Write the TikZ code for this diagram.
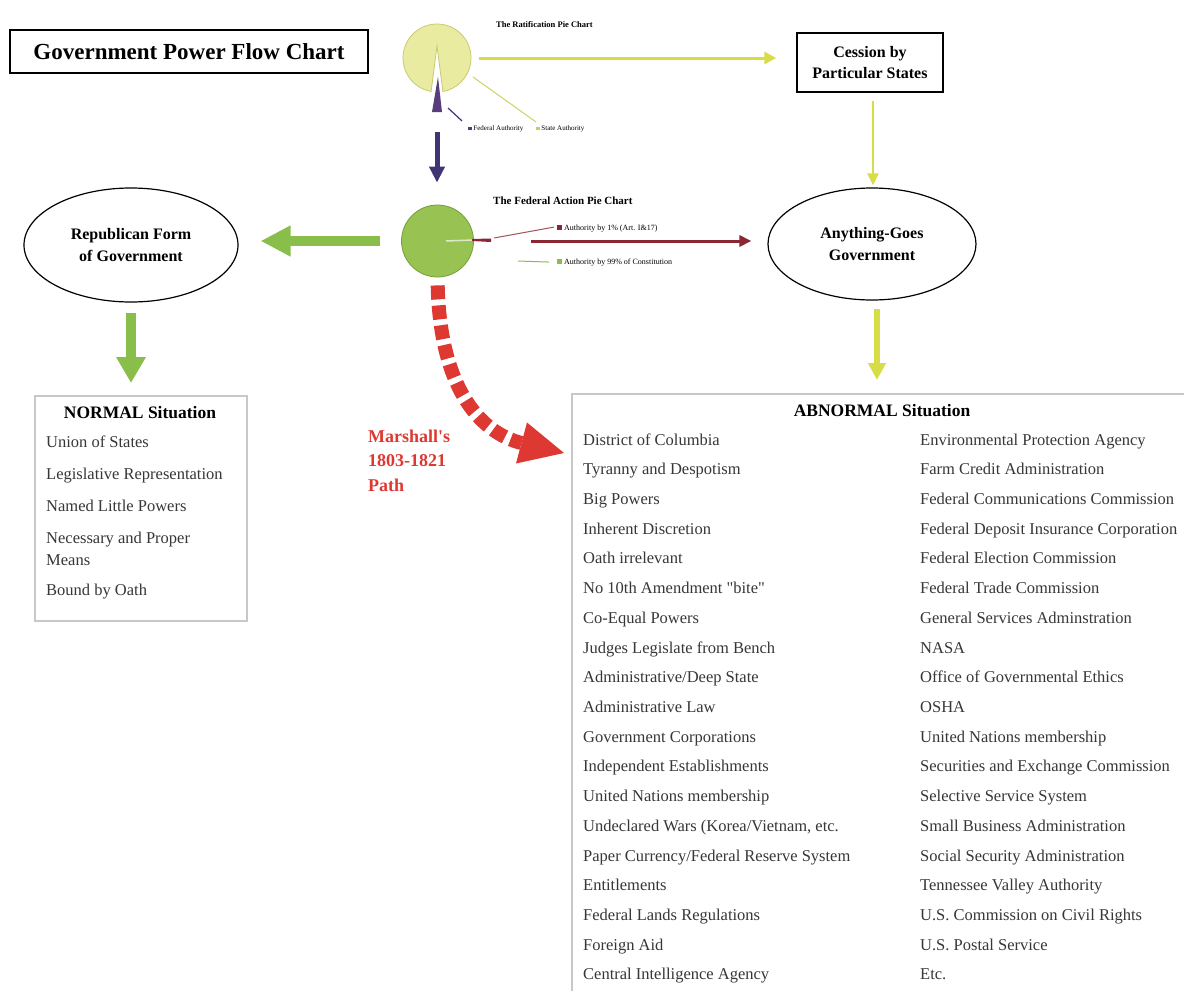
\documentclass[tikz,border=0pt]{standalone}
\usepackage{fontspec}
\setmainfont{Liberation Serif}[Ligatures=TeXOff]
\usetikzlibrary{arrows.meta,shapes.geometric,calc}
\definecolor{yarrow}{RGB}{214,221,70}
\definecolor{pieY}{RGB}{233,235,160}
\definecolor{pieYe}{RGB}{200,202,115}
\definecolor{purp}{RGB}{62,52,118}
\definecolor{sliver}{RGB}{88,60,125}
\definecolor{garrow}{RGB}{138,190,74}
\definecolor{pieG}{RGB}{152,194,82}
\definecolor{pieGe}{RGB}{118,158,60}
\definecolor{darkred}{RGB}{140,38,50}
\definecolor{mred}{RGB}{222,56,50}
\definecolor{boxgray}{RGB}{200,200,200}
\definecolor{txt}{RGB}{55,55,55}
\begin{document}
\begin{tikzpicture}[x=1pt,y=-1pt,
  titlebox/.style={draw, line width=1.3pt, minimum width=358pt, minimum height=43pt, inner sep=0, font=\fontsize{23}{26}\selectfont\bfseries},
  cbox/.style={draw, line width=1.5pt, minimum width=146pt, minimum height=59pt, inner sep=0, align=center, font=\fontsize{16}{21}\selectfont\bfseries},
  oval/.style={draw, ellipse, line width=1.2pt, inner sep=0, align=center, font=\fontsize{16}{22}\selectfont\bfseries},
  item/.style={anchor=base west, inner sep=0, text=txt, font=\fontsize{16.5}{20}\selectfont},
  hdr/.style={anchor=base, inner sep=0, font=\fontsize{17.5}{20}\selectfont\bfseries},
  tiny/.style={anchor=base west, inner sep=0, font=\fontsize{#1}{10}\selectfont},
  marsh/.style={anchor=base west, inner sep=0, text=mred, font=\fontsize{18}{24}\selectfont\bfseries},
  listbox/.style={draw=boxgray, line width=1.5pt, anchor=north west, inner sep=0}
]
\useasboundingbox (0,0) rectangle (1184,991);
\fill[white] (0,0) rectangle (1184,991);

% title
\node[titlebox] (title) at (189,51.5) {Government Power Flow Chart};

% ratification pie
\node[circle, minimum size=68pt, inner sep=0] (ratpie) at (437,58) {};
\fill[pieY, draw=pieYe, line width=0.8pt] (437,46) -- ($(ratpie.center)+(100:34)$) arc[start angle=100, end angle=440, radius=34] -- cycle;
\fill[sliver] (438,77) -- (442,112) -- (432,112) -- cycle;
\coordinate (sliv) at (437,112);
\node[tiny=8.5, font=\fontsize{8.5}{10}\selectfont\bfseries] (rattitle) at (496,27) {The Ratification Pie Chart};
\node[tiny=7] (fedleg) at (468,130) {\textcolor{sliver}{\rule{3.5pt}{3.5pt}} Federal Authority};
\node[tiny=7] (stleg) at (536,130) {\textcolor{pieYe}{\rule{3.5pt}{3.5pt}} State Authority};
\draw[purp, line width=1.2pt] ($(fedleg.north west)+(-6,-4)$) -- (448,108);
\draw[pieYe!60!yarrow, line width=1pt] (473,77) -- ($(stleg.north west)+(0,-3)$);

% federal action pie
\node[circle, fill=pieG, draw=pieGe, line width=0.8pt, minimum size=72pt, inner sep=0] (fedpie) at (437.5,241) {};
\draw[white!65!pieG, line width=1.5pt] (446,241) -- (473,240);
\fill[darkred] (472,239) -- (491,238.5) -- (491,242) -- (472,241) -- cycle;
\node[tiny=11, font=\fontsize{11}{12}\selectfont\bfseries] (fedtitle) at (493,204) {The Federal Action Pie Chart};
\node[tiny=8] (l1) at (557,230) {\textcolor{darkred}{\rule{5pt}{5pt}} Authority by 1\% (Art. I\&17)};
\node[tiny=8] (l2) at (557,264) {\textcolor{garrow}{\rule{5pt}{5pt}} Authority by 99\% of Constitution};
\draw[darkred!80, line width=1pt] (494,238) -- ($(l1.west)+(-3,-1)$);
\draw[garrow, line width=1pt] (518,261) -- ($(l2.west)+(-8,0)$);

% cession and ellipses
\node[cbox] (cession) at (870,62.5) {Cession by\\Particular States};
\node[oval, minimum width=214pt, minimum height=114pt] (rep) at (131,245) {Republican Form\\of Government};
\node[oval, minimum width=208pt, minimum height=112pt] (anything) at (872,244) {Anything-Goes\\Government};

% list boxes
\node[listbox, minimum width=212pt, minimum height=225pt] (normal) at (34,395) {};
\node[listbox, minimum width=640pt, minimum height=640pt] (abn) at (571,393) {};

% arrows
\draw[yarrow, line width=3pt, -{Triangle[length=12pt,width=12pt]}, shorten <=8pt, shorten >=20pt] (ratpie.east) -- (ratpie.east -| cession.west);
\draw[yarrow, line width=2.5pt, -{Triangle[length=12pt,width=11pt]}, shorten <=8pt, shorten >=2pt] ([xshift=3pt]cession.south) -- ([xshift=3pt]cession.south |- anything.north);
\draw[yarrow, line width=6pt, -{Triangle[length=17pt,width=17pt]}, shorten <=8pt, shorten >=13pt] ([xshift=5pt]anything.south) -- ([xshift=5pt]anything.south |- abn.north);
\draw[purp, line width=5pt, -{Triangle[length=16pt,width=15pt]}, shorten <=20pt, shorten >=22pt] (sliv) -- (sliv |- fedpie.north);
\draw[darkred, line width=3pt, -{Triangle[length=12pt,width=11pt]}, shorten <=57pt, shorten >=16pt] (fedpie.east) -- (fedpie.east -| anything.west);
\draw[garrow, line width=10pt, -{Triangle[length=30pt,width=29pt]}, shorten <=21pt, shorten >=22pt] (fedpie.west) -- (fedpie.west -| rep.east);
\draw[garrow, line width=10pt, -{Triangle[length=26pt,width=28pt]}, shorten <=10pt, shorten >=12pt] (rep.south) -- (rep.south |- normal.north);
% Marshall's path: dashed curve + solid head
\coordinate (mbase) at (521.5,443);
\coordinate (mtip) at (564,453);
\draw[mred, line width=14pt, dash pattern=on 14pt off 6pt, shorten <=8pt] (fedpie.south) .. controls (440,385) and (478,432) .. (mbase);
\fill[mred] (516,463.5) -- (mtip) -- (527,422.5) -- cycle;

% Marshall label
\node[marsh] (m1) at (368,442) {Marshall's};
\node[marsh] (m2) at (368,466) {1803-1821};
\node[marsh] (m3) at (368,491) {Path};

% NORMAL list
\node[hdr] (nh) at (140,418) {NORMAL Situation};
\node[item] (n1) at (46,447) {Union of States};
\node[item] (n2) at (46,479) {Legislative Representation};
\node[item] (n3) at (46,511) {Named Little Powers};
\node[item] (n4) at (46,543) {Necessary and Proper};
\node[item] (n5) at (46,565) {Means};
\node[item] (n6) at (46,595) {Bound by Oath};

% ABNORMAL list
\node[hdr] (ah) at (882,416) {ABNORMAL Situation};
\foreach \t [count=\i from 0] in {District of Columbia, Tyranny and Despotism, Big Powers, Inherent Discretion, Oath irrelevant, {No 10th Amendment "bite"}, Co-Equal Powers, Judges Legislate from Bench, Administrative/Deep State, Administrative Law, Government Corporations, Independent Establishments, United Nations membership, {Undeclared Wars (Korea/Vietnam, etc.}, Paper Currency/Federal Reserve System, Entitlements, Federal Lands Regulations, Foreign Aid, Central Intelligence Agency}
  \node[item] (a\i) at (583,{445+29.72*\i}) {\t};
\foreach \t [count=\i from 0] in {Environmental Protection Agency, Farm Credit Administration, Federal Communications Commission, Federal Deposit Insurance Corporation, Federal Election Commission, Federal Trade Commission, General Services Adminstration, NASA, Office of Governmental Ethics, OSHA, United Nations membership, Securities and Exchange Commission, Selective Service System, Small Business Administration, Social Security Administration, Tennessee Valley Authority, U.S. Commission on Civil Rights, U.S. Postal Service, Etc.}
  \node[item] (b\i) at (920,{445+29.72*\i}) {\t};
\end{tikzpicture}
\end{document}
